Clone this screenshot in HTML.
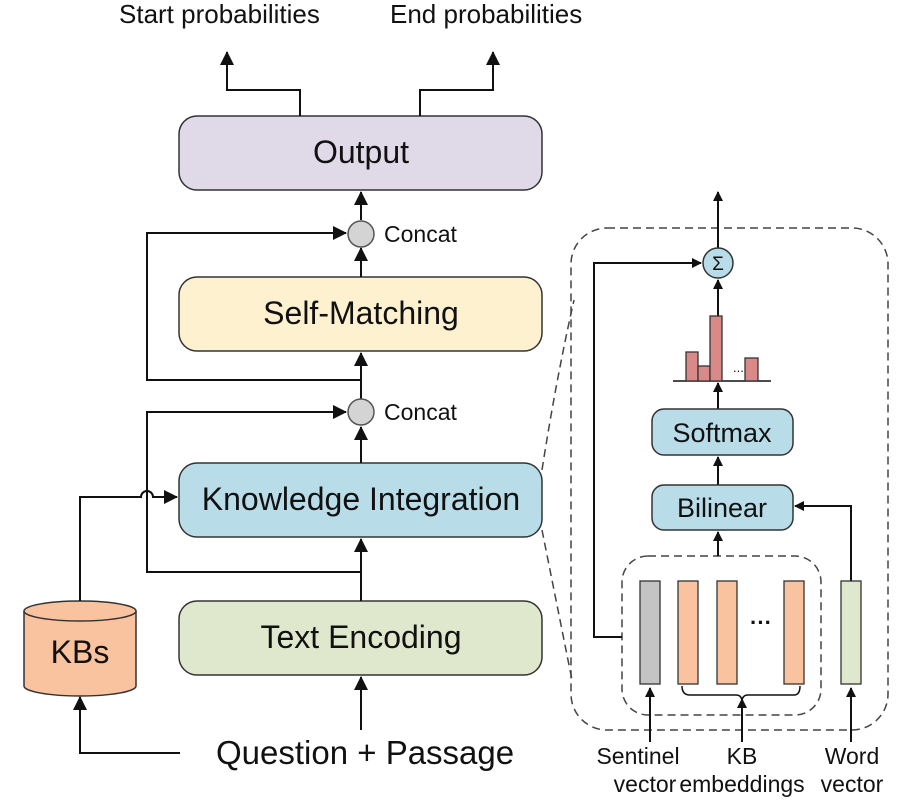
<!DOCTYPE html>
<html><head><style>body{margin:0;background:#fff}svg{display:block}text{font-family:"Liberation Sans",Arial,sans-serif;fill:#111}</style></head>
<body>
<svg width="900" height="806" viewBox="0 0 900 806" xmlns="http://www.w3.org/2000/svg">
<defs><marker id="a" markerWidth="10" markerHeight="10" refX="9" refY="5" orient="auto" markerUnits="userSpaceOnUse"><path d="M0,0 L10,5 L0,10 z" fill="#111"/></marker>
<marker id="b" markerWidth="14" markerHeight="14" refX="13" refY="7" orient="auto" markerUnits="userSpaceOnUse"><path d="M0,0 L14,7 L0,14 z" fill="#111"/></marker></defs>
<rect x="179" y="116" width="363" height="74" rx="18" fill="#e0dae8" stroke="#333" stroke-width="1.5"/>
<text x="361" y="163" font-size="32" text-anchor="middle">Output</text>
<rect x="179" y="277" width="363" height="74" rx="18" fill="#fdf1d0" stroke="#333" stroke-width="1.5"/>
<text x="361" y="324" font-size="32" text-anchor="middle">Self-Matching</text>
<rect x="179" y="463" width="363" height="74" rx="18" fill="#b9dde8" stroke="#333" stroke-width="1.5"/>
<text x="361" y="510" font-size="32" text-anchor="middle">Knowledge Integration</text>
<rect x="179" y="601" width="363" height="74" rx="18" fill="#dfe8cc" stroke="#333" stroke-width="1.5"/>
<text x="361" y="648" font-size="32" text-anchor="middle">Text Encoding</text>
<!-- KBs cylinder -->
<path d="M24,611 V686 A56,10 0 0 0 136,686 V611" fill="#f8c39e" stroke="#333" stroke-width="1.5"/>
<ellipse cx="80" cy="611" rx="56" ry="10" fill="#f8c39e" stroke="#333" stroke-width="1.5"/>
<text x="80" y="663" font-size="32" text-anchor="middle">KBs</text>
<g stroke="#111" stroke-width="2" fill="none">
<path d="M300,116 V90 H227 V52" marker-end="url(#b)"/>
<path d="M420,116 V90 H493 V52" marker-end="url(#b)"/>
<path d="M361,220 V192" marker-end="url(#b)"/>
<path d="M361,277 V248" marker-end="url(#b)"/>
<path d="M361,463 V427" marker-end="url(#b)"/>
<path d="M361,399 V353" marker-end="url(#b)"/>
<path d="M361,601 V539" marker-end="url(#b)"/>
<path d="M361,730 V677" marker-end="url(#b)"/>
<path d="M361,380 H147 V233 H346" marker-end="url(#b)"/>
<path d="M361,572 H147 V412 H346" marker-end="url(#b)"/>
<path d="M80,601 V497 H141 A6,6 0 0 1 153,497 H177" marker-end="url(#b)"/>
<path d="M180,753 H80 V697" marker-end="url(#b)"/>
</g>
<circle cx="361" cy="234" r="13" fill="#d4d4d4" stroke="#555" stroke-width="1.5"/>
<circle cx="361" cy="412" r="13" fill="#d4d4d4" stroke="#555" stroke-width="1.5"/>
<text x="384" y="242" font-size="23">Concat</text>
<text x="384" y="420" font-size="23">Concat</text>
<text x="119" y="23" font-size="26">Start probabilities</text>
<text x="390" y="23" font-size="26">End probabilities</text>
<text x="216" y="764" font-size="33">Question + Passage</text>
<g stroke="#444" stroke-width="1.5" fill="none" stroke-dasharray="8,5">
<path d="M542,470 Q556,380 574,300"/>
<path d="M542,530 Q556,600 572,680"/>
<rect x="571" y="228" width="317" height="502" rx="36"/>
<rect x="622" y="556" width="199" height="159" rx="26"/>
</g>
<g stroke="#111" stroke-width="2" fill="none">
<path d="M718,248 V192" marker-end="url(#a)"/>
<path d="M718,316 V280" marker-end="url(#a)"/>
<path d="M718,409 V383" marker-end="url(#a)"/>
<path d="M718,485 V457" marker-end="url(#a)"/>
<path d="M718,556 V532" marker-end="url(#a)"/>
<path d="M622,637 H594 V263 H701" marker-end="url(#a)"/>
<path d="M851,581 V506 H795" marker-end="url(#a)"/>
<path d="M650,742 V688" marker-end="url(#a)"/>
<path d="M742,742 V699" marker-end="url(#a)"/>
<path d="M851,742 V688" marker-end="url(#a)"/>
<path d="M682,686 Q682,695 690,695 H736 Q742,695 742,702 Q742,695 748,695 H794 Q800,695 800,686" stroke-width="1.5"/>
<path d="M673,381 H771" stroke-width="1.5"/>
</g>
<circle cx="718" cy="263" r="15" fill="#b9dde8" stroke="#333" stroke-width="1.5"/>
<text x="718" y="270" font-size="19" text-anchor="middle">Σ</text>
<g fill="#d98a88" stroke="#333" stroke-width="1.3">
<rect x="686" y="352" width="12" height="29"/><rect x="698" y="366" width="12" height="15"/>
<rect x="710" y="316" width="12" height="65"/><rect x="745" y="358" width="13" height="23"/>
</g>
<text x="733" y="372" font-size="13">...</text>
<rect x="652" y="409" width="141" height="46" rx="12" fill="#b9dde8" stroke="#333" stroke-width="1.5"/>
<text x="722" y="442" font-size="27" text-anchor="middle">Softmax</text>
<rect x="652" y="485" width="141" height="45" rx="12" fill="#b9dde8" stroke="#333" stroke-width="1.5"/>
<text x="722" y="517" font-size="27" text-anchor="middle">Bilinear</text>
<rect x="640" y="581" width="20" height="103" fill="#c4c4c4" stroke="#333" stroke-width="1.3"/>
<rect x="678" y="581" width="20" height="103" fill="#f8c39e" stroke="#333" stroke-width="1.3"/>
<rect x="717" y="581" width="20" height="103" fill="#f8c39e" stroke="#333" stroke-width="1.3"/>
<rect x="784" y="581" width="20" height="103" fill="#f8c39e" stroke="#333" stroke-width="1.3"/>
<rect x="841" y="581" width="20" height="103" fill="#dfe8cc" stroke="#333" stroke-width="1.3"/>
<text x="761" y="630" font-size="22" text-anchor="middle" font-weight="bold">···</text>
<g font-size="23" text-anchor="middle">
<text x="638" y="764">Sentinel</text><text x="645" y="792">vector</text>
<text x="742" y="764">KB</text><text x="742" y="792">embeddings</text>
<text x="852" y="764">Word</text><text x="852" y="792">vector</text>
</g>
</svg>
</body></html>
